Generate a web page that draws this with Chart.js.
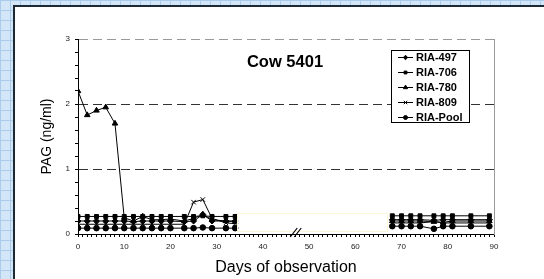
<!DOCTYPE html>
<html>
<head>
<meta charset="utf-8">
<script src="https://cdn.jsdelivr.net/npm/chart.js@4"></script>
<style>
  html, body { margin: 0; padding: 0; }
  body {
    width: 544px; height: 279px; overflow: hidden; position: relative;
    background-color: #d3e6f7;
    background-image: linear-gradient(#aacbea 1px, transparent 1px),
                      linear-gradient(90deg, #aacbea 1px, transparent 1px);
    background-size: 10px 10px;
  }
  #panel {
    position: absolute; left: 13px; top: 5px; right: 0; bottom: 0;
    background: #fff; border-left: 2px solid #1e2a33; border-top: 2px solid #1e2a33;
  }
  canvas { position: absolute; left: 0; top: 0; }
</style>
</head>
<body>
<div id="panel"></div>
<canvas id="myChart" width="544" height="279"></canvas>
<script>
'use strict';

// days of observation (50 = the axis break, no value)
let days = [0, 2, 4, 6, 8, 10, 12, 14, 16, 18, 20, 23, 25, 27, 29, 32, 34, 50, 68, 70, 72, 74, 77, 79, 81, 85, 89];

let ria497 = [0.2, 0.2, 0.2, 0.2, 0.2, 0.2, 0.19, 0.2, 0.2, 0.2, 0.2, 0.19, 0.2, 0.3, 0.2, 0.2, 0.2, null, 0.22, 0.22, 0.22, 0.22, 0.21, 0.22, 0.22, 0.22, 0.22];
let ria706 = [0.27, 0.27, 0.27, 0.27, 0.27, 0.27, 0.27, 0.27, 0.27, 0.27, 0.27, 0.27, 0.27, 0.28, 0.27, 0.27, 0.27, null, 0.28, 0.28, 0.28, 0.28, 0.28, 0.28, 0.28, 0.28, 0.28];
let ria780 = [2.2, 1.83, 1.9, 1.95, 1.7, 0.25, 0.2, 0.27, 0.22, 0.22, 0.23, 0.2, 0.24, 0.3, 0.22, 0.2, 0.19, null, 0.2, 0.2, 0.2, 0.2, 0.19, 0.18, 0.2, 0.2, 0.2];
let ria809 = [0.15, 0.15, 0.15, 0.15, 0.15, 0.15, 0.15, 0.15, 0.15, 0.15, 0.15, 0.15, 0.49, 0.53, 0.24, 0.17, 0.16, null, 0.17, 0.17, 0.17, 0.17, 0.19, 0.17, 0.17, 0.17, 0.17];
let riaPool = [0.09, 0.09, 0.09, 0.09, 0.09, 0.09, 0.09, 0.09, 0.09, 0.09, 0.09, 0.09, 0.09, 0.1, 0.09, 0.09, 0.09, null, 0.12, 0.12, 0.12, 0.12, 0.08, 0.12, 0.12, 0.12, 0.12];

let seriesNames = ['RIA-497', 'RIA-706', 'RIA-780', 'RIA-809', 'RIA-Pool'];
let seriesValues = [ria497, ria706, ria780, ria809, riaPool];
let markers = ['rectRot', 'rect', 'triangle', 'crossRot', 'circle'];
let markerSizes = [3, 2.8, 3.2, 3.2, 2.8];

let yTickLabels = [0, 1, 2, 3];
let xTickLabels = [0, 10, 20, 30, 40, 50, 60, 70, 80, 90];

const FONT = '"Liberation Sans", Arial, sans-serif';
Chart.defaults.font.family = FONT;
Chart.defaults.color = '#222';

function isInt(v) {
  return Math.abs(v - Math.round(v)) < 1e-6;
}

let datasets = [];
for (let i = 0; i < seriesNames.length; i++) {
  datasets.push({
    label: seriesNames[i],
    data: days.map((d, j) => ({x: d, y: seriesValues[i][j]})),
    borderColor: '#000',
    backgroundColor: '#000',
    borderWidth: 1,
    pointStyle: markers[i],
    pointRadius: markerSizes[i],
    pointBorderWidth: 1,
    spanGaps: false,
    tension: 0
  });
}

// legend, chart title, axis break and the white mask box
const extras = {
  id: 'extras',
  afterDraw(chart) {
    const ctx = chart.ctx;
    const xs = chart.scales.x;
    const ys = chart.scales.y;
    ctx.save();

    // white mask over the break
    let mx1 = xs.getPixelForValue(34.3), mx2 = xs.getPixelForValue(66.7);
    let my1 = ys.getPixelForValue(0.33), my2 = ys.getPixelForValue(0.05);
    ctx.strokeStyle = '#fbf6d8';
    ctx.lineWidth = 1;
    ctx.strokeRect(Math.round(mx1) + 0.5, Math.round(my1) + 0.5, Math.round(mx2 - mx1), Math.round(my2 - my1));

    // break marks
    let bx = xs.getPixelForValue(47);
    let by = ys.getPixelForValue(0);
    ctx.strokeStyle = '#000';
    ctx.lineWidth = 1.2;
    ctx.beginPath();
    ctx.moveTo(bx - 5, by + 3); ctx.lineTo(bx + 2, by - 6);
    ctx.moveTo(bx - 1, by + 3); ctx.lineTo(bx + 6, by - 6);
    ctx.stroke();

    // title inside the plot
    ctx.fillStyle = '#000';
    ctx.font = 'bold 16.5px ' + FONT;
    ctx.textAlign = 'center';
    ctx.textBaseline = 'middle';
    ctx.fillText('Cow 5401', 285, 62);

    // legend box
    ctx.fillStyle = '#fff';
    ctx.fillRect(391.5, 50.5, 78, 72);
    ctx.lineWidth = 1;
    ctx.strokeStyle = '#000';
    ctx.strokeRect(391.5, 50.5, 78, 72);
    ctx.font = 'bold 11px ' + FONT;
    ctx.textAlign = 'left';
    chart.data.datasets.forEach((ds, i) => {
      let y = 57.5 + i * 15;
      ctx.beginPath();
      ctx.moveTo(398, y); ctx.lineTo(413, y);
      ctx.stroke();
      ctx.fillStyle = '#000';
      if (Chart.helpers && Chart.helpers.drawPoint) {
        Chart.helpers.drawPoint(ctx, {pointStyle: ds.pointStyle, radius: ds.pointRadius - 0.8, borderWidth: 1, rotation: 0}, 405.5, y);
      }
      ctx.fillText(ds.label, 416, y + 0.5);
    });
    ctx.restore();
  }
};

const config = {
  type: 'line',
  data: {datasets: datasets},
  options: {
    responsive: false,
    animation: false,
    layout: {padding: {left: 0, right: 50, top: 39, bottom: 0}},
    plugins: {legend: {display: false}, tooltip: {enabled: false}},
    scales: {
      x: {
        type: 'linear',
        min: 0,
        max: 90,
        afterFit: s => { s.height = 45; },
        ticks: {
          stepSize: 1,
          autoSkip: false,
          maxRotation: 0,
          padding: 5,
          font: {size: 8},
          callback: v => (xTickLabels.includes(v) ? String(v) : '')
        },
        grid: {drawOnChartArea: false, tickLength: 3, color: '#000', lineWidth: 1},
        border: {color: '#000', width: 1},
        title: {display: true, text: 'Days of observation', font: {size: 16}, color: '#000', padding: {top: 0, bottom: 2}}
      },
      y: {
        min: 0,
        max: 3,
        afterFit: s => { s.width = 78; },
        ticks: {
          stepSize: 0.2,
          autoSkip: false,
          padding: 5,
          font: {size: 8},
          callback: v => (isInt(v) && yTickLabels.includes(Math.round(v)) ? String(Math.round(v)) : '')
        },
        grid: {
          tickLength: 3,
          lineWidth: 1,
          color: c => {
            if (!c.tick) return 'rgba(0,0,0,0)';
            let v = c.tick.value;
            if (!isInt(v) || Math.round(v) === 0) return 'rgba(0,0,0,0)';
            return Math.round(v) === 3 ? '#9a9a9a' : '#333';
          },
          tickColor: '#000'
        },
        border: {color: '#000', width: 1, dash: c => (c.type === 'tick' ? [9, 5] : [])},
        title: {display: true, text: 'PAG (ng/ml)', font: {size: 14}, color: '#000', padding: {top: 39, bottom: 0}}
      },
      y2: {
        position: 'right',
        min: 0,
        max: 3,
        afterFit: s => { s.width = 0; },
        ticks: {display: false},
        grid: {display: false, drawTicks: false},
        border: {display: true, color: '#9a9a9a', width: 1}
      }
    }
  },
  plugins: [extras]
};

const myChart = new Chart(document.getElementById('myChart'), config);
</script>
</body>
</html>
